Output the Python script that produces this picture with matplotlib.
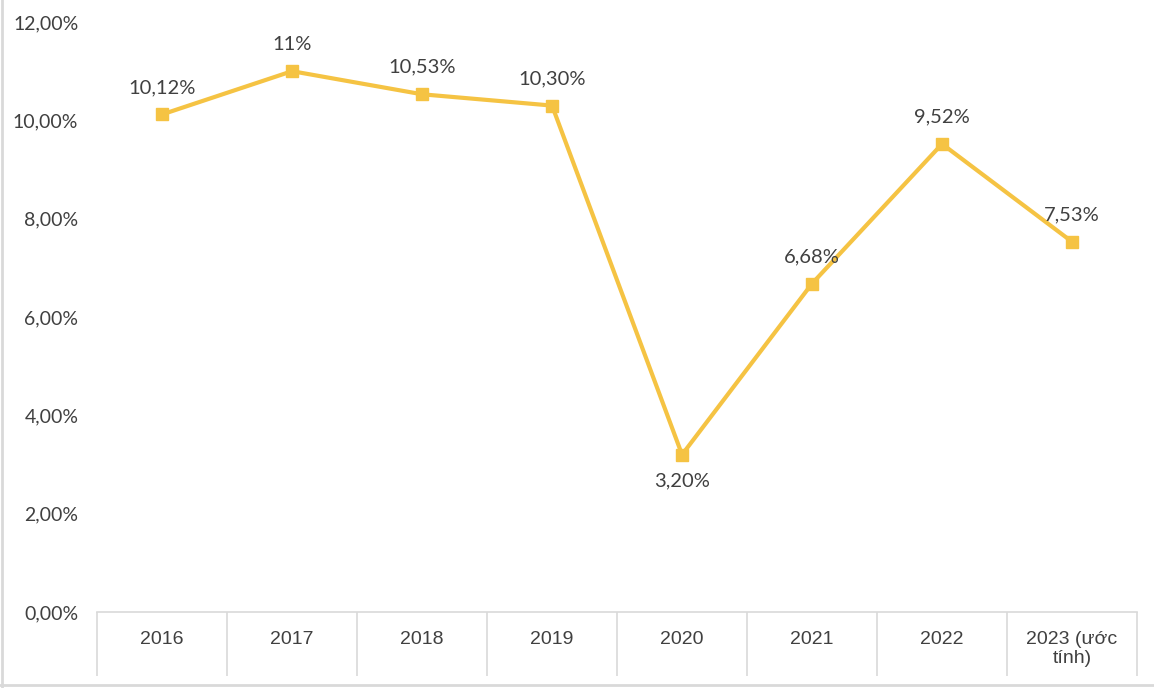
import matplotlib.pyplot as plt
from matplotlib.lines import Line2D

years = ['2016', '2017', '2018', '2019', '2020', '2021', '2022', '2023 (ước\ntính)']
growth = [10.12, 11.0, 10.53, 10.30, 3.20, 6.68, 9.52, 7.53]
point_labels = ['10,12%', '11%', '10,53%', '10,30%', '3,20%', '6,68%', '9,52%', '7,53%']
y_ticks = [0, 2, 4, 6, 8, 10, 12]

line_color = '#F5C343'
text_color = '#404040'
frame_color = '#D9D9D9'

fig = plt.figure(figsize=(11.54, 6.88), dpi=100)
ax = fig.add_axes([0.0841, 0.1105, 0.9012, 0.8575])

x = list(range(len(years)))
ax.plot(x, growth, color=line_color, lw=3, marker='s', markersize=8, zorder=3)

# data labels, the 2020 one sits under the point
for xi, v, lab in zip(x, growth, point_labels):
    dy = -26 if xi == 4 else 27
    ax.annotate(lab, (xi, v), xytext=(0, dy), textcoords='offset pixels',
                ha='center', va='center', fontsize=14.5, color=text_color,
                family=['Lato', 'DejaVu Sans'])

ax.set_xlim(-0.5, len(years) - 0.5)
ax.set_ylim(0, 12)
ax.set_yticks(y_ticks)
ax.set_yticklabels(['{:.2f}%'.format(t).replace('.', ',') for t in y_ticks],
                   fontsize=14, color=text_color, family=['Lato', 'DejaVu Sans'])
ax.tick_params(axis='y', length=0, pad=13.5)

# category boxes under the axis, Excel style
ax.set_xticks(x)
ax.set_xticklabels(years, fontsize=14, color=text_color,
                   family=['Liberation Sans', 'DejaVu Sans'], linespacing=1.15)
ax.set_xticks([i - 0.5 for i in range(len(years) + 1)], minor=True)
ax.tick_params(axis='x', which='major', length=0, pad=13.5)
ax.tick_params(axis='x', which='minor', length=46, width=1.2, color=frame_color, direction='out')

for side in ['top', 'right', 'left']:
    ax.spines[side].set_visible(False)
ax.spines['bottom'].set_color(frame_color)
ax.spines['bottom'].set_linewidth(1.2)

# chart frame on left and bottom edges of the picture
fig.add_artist(Line2D([0.002, 0.002], [0, 1], color=frame_color, lw=2, transform=fig.transFigure))
fig.add_artist(Line2D([0, 1], [0.005, 0.005], color=frame_color, lw=2, transform=fig.transFigure))

fig.savefig('out.png', dpi=100, facecolor='white')
